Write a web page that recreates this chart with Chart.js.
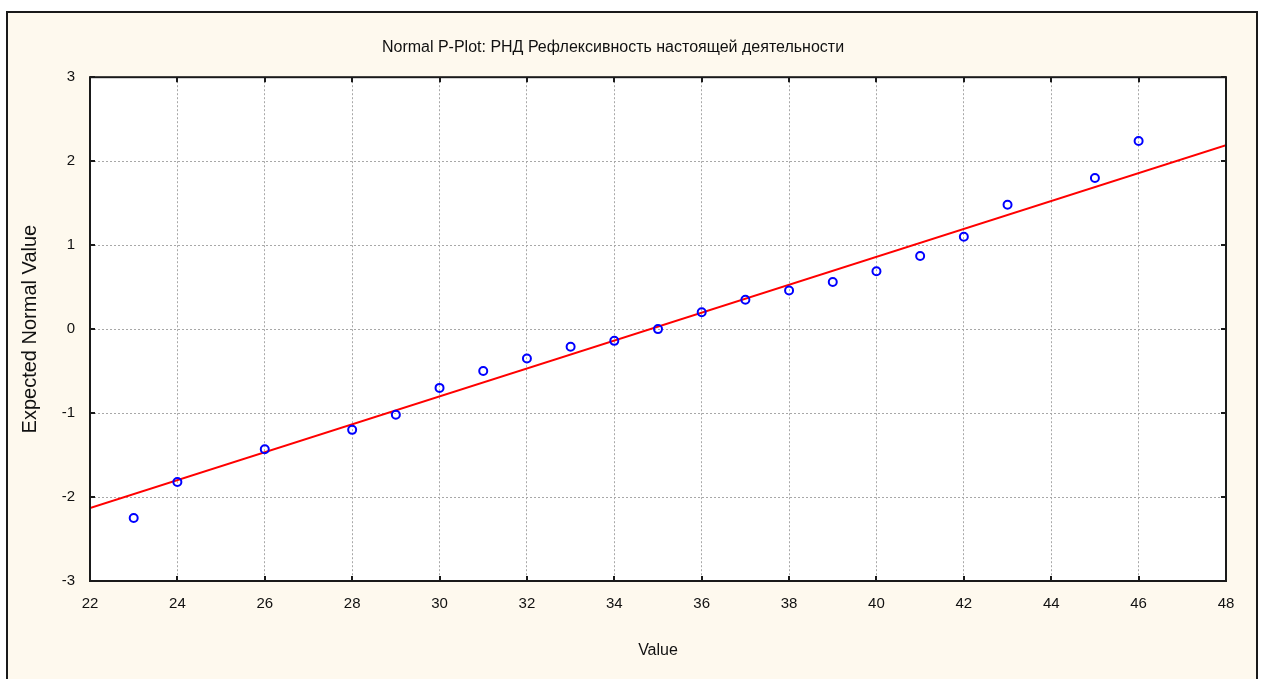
<!DOCTYPE html>
<html>
<head>
<meta charset="utf-8">
<title>Normal P-Plot</title>
<script src="https://cdn.jsdelivr.net/npm/chart.js@4/dist/chart.umd.min.js"></script>
<style>
  html, body { margin: 0; padding: 0; background: #fff; overflow: hidden; }
  #frame {
    position: absolute; left: 6px; top: 11px;
    width: 1248px; height: 700px;
    border: 2px solid #1a1a1a;
    background: #fef9ee;
  }
  #chart { position: absolute; left: 0; top: 0; }
</style>
</head>
<body>
<div id="frame"></div>
<canvas id="chart" width="1263" height="679"></canvas>
<script>
// observed values and their expected normal values
const values = [23, 24, 26, 28, 29, 30, 31, 32, 33, 34, 35, 36, 37, 38, 39, 40, 41, 42, 43, 45, 46];
const expected = [-2.25, -1.82, -1.43, -1.20, -1.02, -0.70, -0.50, -0.35, -0.21, -0.14, 0.00,
  0.20, 0.35, 0.46, 0.56, 0.69, 0.87, 1.10, 1.48, 1.80, 2.24];

// fitted line end points
const fitX = [22, 48];
const fitY = [-2.13, 2.19];

// axis ranges / tick steps
const xTicks = [22, 48, 2];
const yTicks = [-3, 3, 1];

const labelFont = "'Liberation Sans', Arial, sans-serif";

// white plot area, black box and inward tick marks
const plotFrame = {
  id: "plotFrame",
  beforeDraw(chart) {
    const a = chart.chartArea;
    const ctx = chart.ctx;
    ctx.save();
    ctx.fillStyle = "#ffffff";
    ctx.fillRect(a.left, a.top, a.right - a.left, a.bottom - a.top);
    ctx.restore();
  },
  afterDraw(chart) {
    const a = chart.chartArea;
    const ctx = chart.ctx;
    const xs = chart.scales.x;
    const ys = chart.scales.y;
    ctx.save();
    ctx.strokeStyle = "#1a1a1a";
    ctx.lineWidth = 2;
    ctx.strokeRect(a.left, a.top, a.right - a.left, a.bottom - a.top);
    ctx.beginPath();
    xs.ticks.forEach((t) => {
      const px = Math.round(xs.getPixelForValue(t.value));
      ctx.moveTo(px, a.bottom);
      ctx.lineTo(px, a.bottom - 5);
      ctx.moveTo(px, a.top);
      ctx.lineTo(px, a.top + 5);
    });
    ys.ticks.forEach((t) => {
      const py = Math.round(ys.getPixelForValue(t.value));
      ctx.moveTo(a.left, py);
      ctx.lineTo(a.left + 5, py);
      ctx.moveTo(a.right, py);
      ctx.lineTo(a.right - 5, py);
    });
    ctx.stroke();
    ctx.restore();
  },
};

if (document.getElementById("chart")) {
  const ctx = document.getElementById("chart").getContext("2d");
  const chart = new Chart(ctx, {
    type: "scatter",
    data: {
      datasets: [
        {
          label: "Expected Normal Value",
          data: values.map((v, i) => ({ x: v, y: expected[i] })),
          pointStyle: "circle",
          pointRadius: 4,
          pointBorderColor: "#0000ff",
          pointBackgroundColor: "rgba(0,0,0,0)",
          pointBorderWidth: 2,
          showLine: false,
          order: 0,
        },
        {
          type: "line",
          label: "fit",
          data: fitX.map((v, i) => ({ x: v, y: fitY[i] })),
          borderColor: "#ff0000",
          borderWidth: 2,
          pointRadius: 0,
          fill: false,
          order: 1,
        },
      ],
    },
    options: {
      responsive: false,
      animation: false,
      devicePixelRatio: 1,
      layout: {
        padding: { left: 0, right: 37, top: 0, bottom: 0 },
      },
      scales: {
        x: {
          type: "linear",
          min: xTicks[0],
          max: xTicks[1],
          afterFit: function (scale) {
            scale.height = 98;
          },
          ticks: {
            stepSize: xTicks[2],
            color: "#111",
            padding: 14,
            maxRotation: 0,
            font: { family: labelFont, size: 15 },
          },
          grid: {
            drawTicks: false,
            color: "#a8a8a8",
            lineWidth: 1,
          },
          border: { display: false, dash: [2, 2] },
          title: {
            display: true,
            text: "Value",
            color: "#111",
            font: { family: labelFont, size: 16 },
            padding: { top: 0, bottom: 19 },
          },
        },
        y: {
          type: "linear",
          min: yTicks[0],
          max: yTicks[1],
          afterFit: function (scale) {
            scale.width = 90;
          },
          ticks: {
            stepSize: yTicks[2],
            color: "#111",
            padding: 15,
            font: { family: labelFont, size: 15 },
          },
          grid: {
            drawTicks: false,
            color: "#a8a8a8",
            lineWidth: 1,
          },
          border: { display: false, dash: [2, 2] },
          title: {
            display: true,
            text: "Expected Normal Value",
            color: "#111",
            font: { family: labelFont, size: 20 },
            padding: { top: 18, bottom: 0 },
          },
        },
      },
      plugins: {
        legend: {
          display: false,
        },
        tooltip: {
          enabled: false,
        },
        title: {
          display: true,
          text: "Normal P-Plot: РНД Рефлексивность настоящей деятельности",
          color: "#111",
          font: { family: labelFont, size: 16, weight: "normal" },
          padding: { top: 38, bottom: 20 },
        },
      },
    },
    plugins: [plotFrame],
  });
}
</script>
</body>
</html>
